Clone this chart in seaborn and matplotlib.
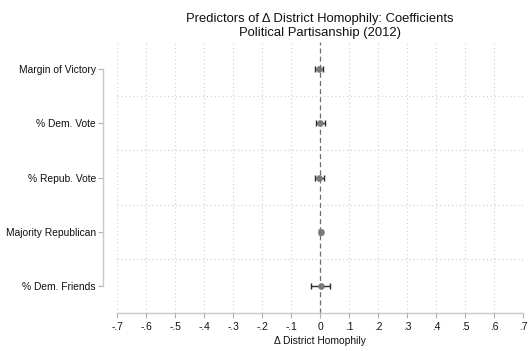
import matplotlib
matplotlib.use('Agg')
import matplotlib.pyplot as plt
import seaborn as sns
import pandas as pd
import numpy as np


# data
labels = ['Margin of Victory', '% Dem. Vote', '% Repub. Vote',
          'Majority Republican', '% Dem. Friends']
coef = [-0.002, 0.001, -0.002, 0.002, 0.002]
ci_low = [-0.016, -0.015, -0.017, -0.002, -0.030]
ci_high = [0.011, 0.017, 0.013, 0.007, 0.035]
xticks = [-0.7, -0.6, -0.5, -0.4, -0.3, -0.2, -0.1, 0, 0.1, 0.2, 0.3, 0.4, 0.5, 0.6, 0.7]
xticklabels = ['-.7', '-.6', '-.5', '-.4', '-.3', '-.2', '-.1', '0',
               '.1', '.2', '.3', '.4', '.5', '.6', '.7']

df = pd.DataFrame({'label': labels, 'coef': coef, 'lo': ci_low, 'hi': ci_high})
df['pos'] = np.arange(len(df))

sns.set_theme(style='white')
plt.rcParams['font.family'] = ['Liberation Sans', 'DejaVu Sans']

fig = plt.figure(figsize=(5.30, 3.51), dpi=100)
ax = fig.add_axes([0.2208, 0.1083, 0.7660, 0.7720])

# grid
for t in xticks:
    if t != 0:
        ax.axvline(t, color='#cfcfcf', lw=0.8, ls=(0, (1, 2.5)), zorder=0)
for m in [0.5, 1.5, 2.5, 3.5]:
    ax.axhline(m, color='#cfcfcf', lw=0.8, ls=(0, (1, 2.5)), zorder=0)
ax.axvline(0, color='#6e6e6e', lw=0.9, ls=(0, (4, 2.5)), zorder=1)

# CIs
ax.errorbar(df['coef'], df['pos'],
            xerr=[df['coef'] - df['lo'], df['hi'] - df['coef']],
            fmt='none', ecolor='#2b2b2b', elinewidth=1.0, capsize=2.5,
            capthick=1.0, zorder=2)
sns.scatterplot(data=df, x='coef', y='pos', ax=ax, color='#7a7a7a', s=20,
                edgecolor='#7a7a7a', linewidth=0.3, zorder=3, legend=False)

ax.set_xlim(-0.7, 0.7)
ax.set_ylim(4.5, -0.5)
ax.set_xticks(xticks)
ax.set_xticklabels(xticklabels)
ax.set_yticks(df['pos'])
ax.set_yticklabels(labels)
ax.tick_params(axis='both', labelsize=7.4, labelcolor='#111111', length=3.8,
               width=0.8, color='#b0b0b0', direction='out', pad=2.5,
               left=True, bottom=True)
ax.tick_params(axis='y', pad=1.5)

for s in ['top', 'right']:
    ax.spines[s].set_visible(False)
ax.spines['left'].set_position(('outward', 10))
ax.spines['left'].set_bounds(0, 4)
for s in ['left', 'bottom']:
    ax.spines[s].set_color('#c8c8c8')
    ax.spines[s].set_linewidth(1.0)

ax.set_xlabel('Δ District Homophily', fontsize=7.4, color='#111111', labelpad=3)
ax.set_ylabel('')
fig.suptitle('Predictors of Δ District Homophily: Coefficients\nPolitical Partisanship (2012)',
             x=0.603, y=0.963, fontsize=9.4, color='#111111', linespacing=1.25)

fig.savefig('out.png', dpi=100)
